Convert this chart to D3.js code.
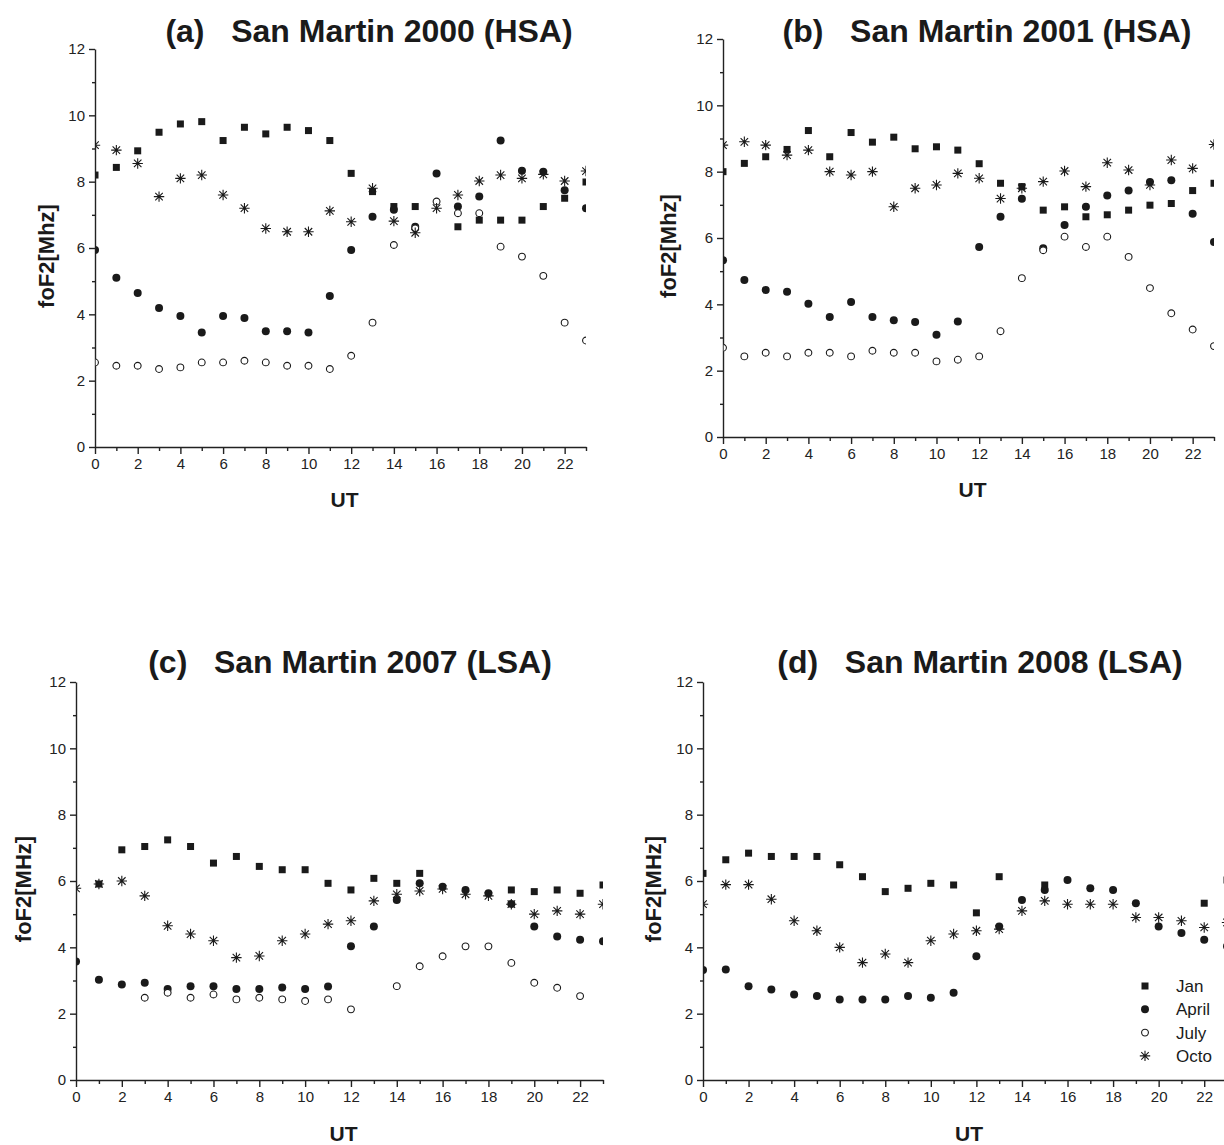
<!DOCTYPE html>
<html>
<head>
<meta charset="utf-8">
<script src="https://cdn.jsdelivr.net/npm/d3@7.9.0/dist/d3.min.js"></script>
<style>
  html, body { margin: 0; padding: 0; background: #fff; overflow: hidden; }
  svg { display: block; font-family: Arial, "Liberation Sans", sans-serif; }
</style>
</head>
<body>
<svg id="chart" width="1224" height="1145"></svg>
<script>
// hours 0..23 UT
const hours = d3.range(24);
const months = ['Jan', 'April', 'July', 'Octo'];
const yTicks = [0, 2, 4, 6, 8, 10, 12];
const xTicks = [0, 2, 4, 6, 8, 10, 12, 14, 16, 18, 20, 22];

// (a) San Martin 2000
const jan2000 = [8.2, 8.43, 8.93, 9.49, 9.74, 9.81, 9.24, 9.64, 9.44, 9.64, 9.54, 9.24, 8.25, 7.7, 7.25, 7.25, null, 6.64, 6.84, 6.84, 6.84, 7.25, 7.5, 7.99];
const apr2000 = [5.94, 5.1, 4.64, 4.19, 3.95, 3.45, 3.95, 3.89, 3.49, 3.49, 3.45, 4.55, 5.94, 6.94, 7.15, 6.64, 8.25, 7.25, 7.55, 9.24, 8.33, 8.3, 7.74, 7.2];
const jul2000 = [2.55, 2.45, 2.45, 2.35, 2.4, 2.55, 2.55, 2.6, 2.55, 2.45, 2.45, 2.35, 2.75, 3.75, 6.09, 6.59, 7.4, 7.05, 7.05, 6.04, 5.74, 5.16, 3.75, 3.21];
const oct2000 = [9.1, 8.95, 8.55, 7.55, 8.1, 8.2, 7.6, 7.2, 6.59, 6.49, 6.49, 7.12, 6.79, 7.8, 6.81, 6.46, 7.2, 7.6, 8.02, 8.2, 8.1, 8.22, 8.02, 8.32];

// (b) San Martin 2001
const jan2001 = [8.0, 8.25, 8.45, 8.67, 9.24, 8.45, 9.18, 8.89, 9.04, 8.69, 8.75, 8.65, 8.24, 7.65, 7.55, 6.84, 6.94, 6.64, 6.7, 6.84, 6.99, 7.04, 7.43, 7.65];
const apr2001 = [5.33, 4.73, 4.43, 4.38, 4.02, 3.62, 4.07, 3.62, 3.52, 3.47, 3.08, 3.48, 5.73, 6.64, 7.18, 5.69, 6.39, 6.94, 7.28, 7.43, 7.69, 7.74, 6.73, 5.88];
const jul2001 = [2.69, 2.43, 2.54, 2.43, 2.54, 2.54, 2.43, 2.6, 2.54, 2.54, 2.28, 2.33, 2.43, 3.19, 4.79, 5.63, 6.04, 5.73, 6.04, 5.43, 4.49, 3.73, 3.24, 2.74];
const oct2001 = [8.8, 8.9, 8.8, 8.5, 8.65, 8.0, 7.9, 8.0, 6.94, 7.5, 7.6, 7.95, 7.8, 7.19, 7.5, 7.7, 8.02, 7.55, 8.27, 8.05, 7.6, 8.35, 8.1, 8.82];

// (c) San Martin 2007
const jan2007 = [null, 5.91, 6.94, 7.04, 7.24, 7.04, 6.54, 6.74, 6.44, 6.34, 6.34, 5.93, 5.73, 6.08, 5.93, 6.23, null, null, null, 5.73, 5.68, 5.73, 5.63, 5.88];
const apr2007 = [3.57, 3.02, 2.88, 2.93, 2.74, 2.83, 2.83, 2.74, 2.74, 2.79, 2.74, 2.82, 4.03, 4.63, 5.43, 5.93, 5.83, 5.73, 5.63, 5.31, 4.63, 4.33, 4.23, 4.18];
const jul2007 = [null, null, null, 2.48, 2.63, 2.48, 2.58, 2.43, 2.48, 2.43, 2.38, 2.43, 2.13, null, 2.83, 3.43, 3.73, 4.03, 4.03, 3.53, 2.93, 2.78, 2.53, null];
const oct2007 = [5.78, 5.91, 6.0, 5.55, 4.65, 4.4, 4.2, 3.69, 3.74, 4.2, 4.4, 4.7, 4.8, 5.4, 5.6, 5.7, 5.76, 5.6, 5.55, 5.3, 5.0, 5.1, 5.0, 5.3];

// (d) San Martin 2008
const jan2008 = [6.23, 6.64, 6.84, 6.74, 6.74, 6.74, 6.49, 6.13, 5.68, 5.78, 5.93, 5.88, 5.04, 6.13, null, 5.88, null, null, null, null, null, null, 5.33, 6.03];
const apr2008 = [3.32, 3.33, 2.83, 2.73, 2.58, 2.53, 2.43, 2.43, 2.43, 2.53, 2.48, 2.63, 3.73, 4.63, 5.43, 5.73, 6.03, 5.78, 5.73, 5.33, 4.63, 4.43, 4.23, 4.03];
const jul2008 = [null, null, null, null, null, null, null, null, null, null, null, null, null, null, null, null, null, null, null, null, null, null, null, null];
const oct2008 = [5.3, 5.89, 5.89, 5.45, 4.8, 4.5, 4.0, 3.54, 3.8, 3.54, 4.2, 4.4, 4.5, 4.55, 5.1, 5.4, 5.3, 5.3, 5.3, 4.9, 4.9, 4.8, 4.6, 4.75];

const ink = '#1a1a1a';

const panels = [
  { title: '(a)   San Martin 2000 (HSA)', ylab: 'foF2[Mhz]', series: [jan2000, apr2000, jul2000, oct2000],
    x0: 95, x1: 586, y0: 447, y1: 49, tx: 369, ty: 42, lx: 48, uty: 507 },
  { title: '(b)   San Martin 2001 (HSA)', ylab: 'foF2[Mhz]', series: [jan2001, apr2001, jul2001, oct2001],
    x0: 723, x1: 1214, y0: 437, y1: 39, tx: 987, ty: 42, lx: 670, uty: 497 },
  { title: '(c)   San Martin 2007 (LSA)', ylab: 'foF2[MHz]', series: [jan2007, apr2007, jul2007, oct2007],
    x0: 76, x1: 603, y0: 1080, y1: 682, tx: 350, ty: 673, lx: 25, uty: 1141 },
  { title: '(d)   San Martin 2008 (LSA)', ylab: 'foF2[MHz]', series: [jan2008, apr2008, jul2008, oct2008],
    x0: 703, x1: 1227, y0: 1080, y1: 682, tx: 980, ty: 673, lx: 655, uty: 1141 }
];

const svg = d3.select('#chart');

function starPath(r) {
  const a = r * 0.72;
  return `M0,${-r}L0,${r}M${-r},0L${r},0M${-a},${-a}L${a},${a}M${-a},${a}L${a},${-a}`;
}

// draw one marker of month index m
function drawMarker(g, m) {
  if (m === 0) {
    g.append('rect').attr('x', -3.5).attr('y', -3.5).attr('width', 7).attr('height', 7).attr('fill', ink);
  } else if (m === 1) {
    g.append('circle').attr('r', 4).attr('fill', ink);
  } else if (m === 2) {
    g.append('circle').attr('r', 3.4).attr('fill', '#fff').attr('stroke', ink).attr('stroke-width', 1.1);
  } else {
    g.append('path').attr('d', starPath(5.2)).attr('fill', 'none').attr('stroke', ink).attr('stroke-width', 1.1);
  }
}

panels.forEach((p, pi) => {
  const x = d3.scaleLinear().domain([0, 23]).range([p.x0, p.x1]);
  const y = d3.scaleLinear().domain([0, 12]).range([p.y0, p.y1]);
  const g = svg.append('g');

  // title
  g.append('text').attr('x', p.tx).attr('y', p.ty).attr('text-anchor', 'middle')
    .attr('font-size', 32).attr('font-weight', 'bold').attr('fill', ink)
    .attr('xml:space', 'preserve').text(p.title);

  // axes
  g.append('g').attr('transform', `translate(${p.x0},0)`)
    .call(d3.axisLeft(y).tickValues(yTicks).tickSize(6).tickSizeOuter(0).tickPadding(4));
  g.append('g').attr('transform', `translate(${p.x0},0)`)
    .call(d3.axisLeft(y).tickValues([1, 3, 5, 7, 9, 11]).tickSize(3).tickFormat(''))
    .select('.domain').remove();
  g.append('g').attr('transform', `translate(0,${p.y0})`)
    .call(d3.axisBottom(x).tickValues(xTicks).tickSize(7).tickSizeOuter(0).tickPadding(4));
  g.append('g').attr('transform', `translate(0,${p.y0})`)
    .call(d3.axisBottom(x).tickValues(d3.range(1, 24, 2)).tickSize(4).tickFormat(''))
    .select('.domain').remove();

  g.selectAll('.domain, .tick line').attr('stroke', '#222').attr('stroke-width', 1.4);
  g.selectAll('.tick text').attr('font-size', 15).attr('fill', '#222')
    .attr('font-family', 'Arial, "Liberation Sans", sans-serif');

  // axis titles
  g.append('text').attr('transform', `translate(${p.lx},${(p.y0 + p.y1) / 2 + 8}) rotate(-90)`)
    .attr('text-anchor', 'middle').attr('dominant-baseline', 'middle')
    .attr('font-size', 22).attr('font-weight', 'bold').attr('fill', ink).text(p.ylab);
  g.append('text').attr('x', (p.x0 + p.x1) / 2 + 4).attr('y', p.uty).attr('text-anchor', 'middle')
    .attr('font-size', 21).attr('font-weight', 'bold').attr('fill', ink).text('UT');

  // clip plot area
  const clipId = 'clip' + pi;
  svg.append('clipPath').attr('id', clipId).append('rect')
    .attr('x', p.x0 + 0.7).attr('y', p.y1 - 10).attr('width', p.x1 - p.x0 - 0.7).attr('height', p.y0 - p.y1 + 10);
  const plot = g.append('g').attr('clip-path', `url(#${clipId})`);

  p.series.forEach((vals, m) => {
    const pts = hours.map(h => ({ h, v: vals[h] })).filter(d => d.v != null);
    plot.selectAll(null).data(pts).enter().append('g')
      .attr('transform', d => `translate(${x(d.h)},${y(d.v)})`)
      .each(function () { drawMarker(d3.select(this), m); });
  });
});

// legend in panel (d)
const legend = svg.append('g').attr('transform', 'translate(1145,986)');
months.forEach((name, m) => {
  const row = legend.append('g').attr('transform', `translate(0,${m * 23.3})`);
  drawMarker(row, m);
  row.append('text').attr('x', 31).attr('y', 6).attr('font-size', 17).attr('fill', ink).text(name);
});
</script>
</body>
</html>
